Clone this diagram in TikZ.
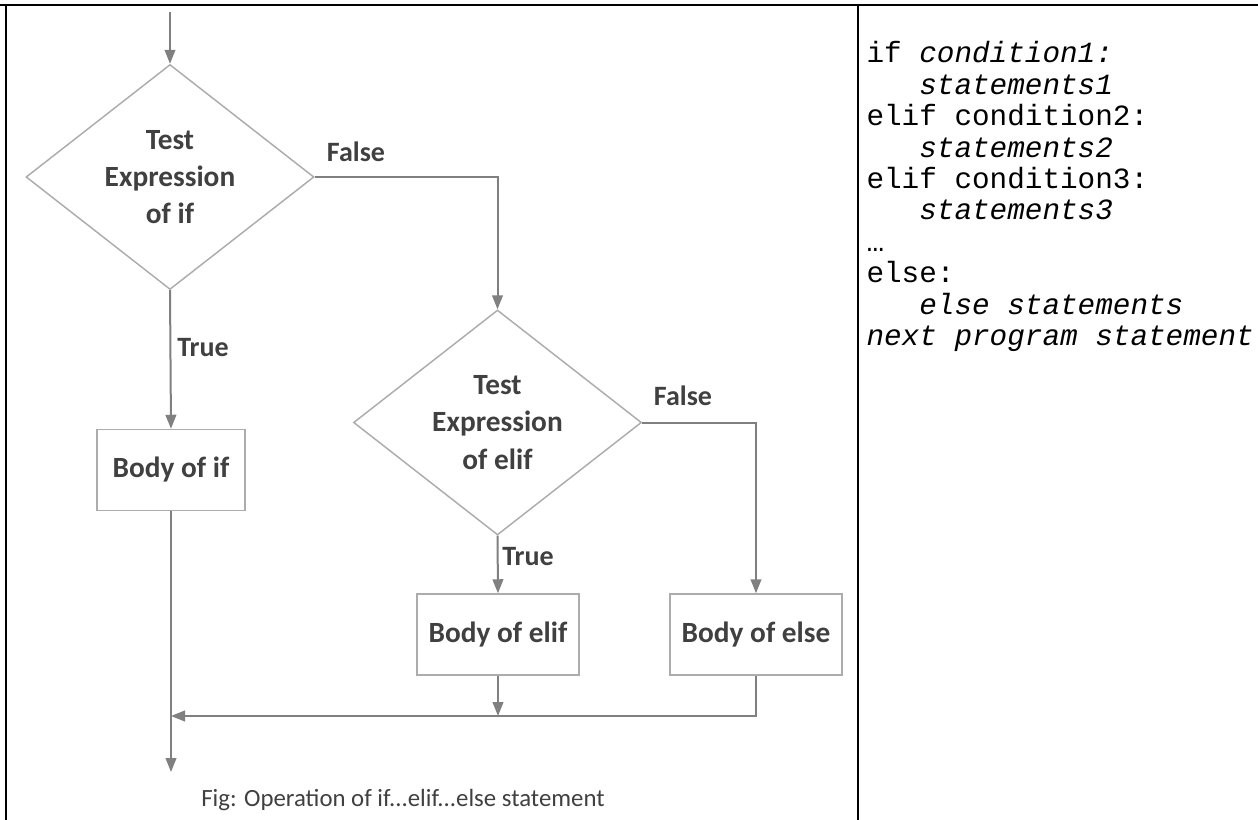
\documentclass[tikz,border=0pt]{standalone}
\usepackage{fontspec}
\usetikzlibrary{shapes.geometric,arrows.meta}
\newfontfamily\flowfont{Carlito}
\newfontfamily\codefont{Liberation Mono}
\definecolor{linegray}{RGB}{128,128,128}
\definecolor{boxgray}{RGB}{172,172,172}
\definecolor{textgray}{RGB}{64,64,64}
\newcommand{\codeind}{\hspace*{39.6pt}}

\tikzset{every picture/.style={line width=0.75pt}}
\tikzset{
  decision/.style={diamond, draw=boxgray, line width=1.1pt, inner sep=0pt, minimum width=216pt, minimum height=168.75pt, align=center, text=textgray, font=\flowfont\bfseries\fontsize{22}{28}\selectfont},
  bodybox/.style={rectangle, draw=boxgray, line width=1.1pt, inner sep=0pt, minimum height=60.75pt, text=textgray, font=\flowfont\bfseries\fontsize{22}{28}\selectfont},
  branchlabel/.style={inner sep=0pt, text=textgray, font=\flowfont\bfseries\fontsize{21}{26}\selectfont},
  flow/.style={draw=linegray, line width=1.5pt, -{Triangle[length=10.5pt,width=8pt]}},
  flowline/.style={draw=linegray, line width=1.5pt},
  codeline/.style={anchor=base west, inner sep=0pt, font=\codefont\fontsize{22}{24}\selectfont},
  frameline/.style={draw=black, line width=1.8pt}
}

\begin{document}
\begin{tikzpicture}[x=0.75pt,y=0.75pt,yscale=-1,xscale=1]
\useasboundingbox (0,0) rectangle (1258,820);

% table frame
\draw [frameline] (0,5) -- (1258,5);
\draw [frameline] (6,5) -- (6,820);
\draw [frameline] (858,5) -- (858,820);

% decisions
\node [decision] (testif) at (170,177) {Test\\Expression\\of if};
\node [decision] (testelif) at (497.5,422.5) {Test\\Expression\\of elif};

% bodies
\node [bodybox, minimum width=111pt] (bodyif) at (171,470) {Body of if};
\node [bodybox, minimum width=121.5pt] (bodyelif) at (498,634.5) {Body of elif};
\node [bodybox, minimum width=129pt] (bodyelse) at (756,634.5) {Body of else};

% free ends
\coordinate (entry) at (170,12);
\coordinate (merge) at (171,716);
\coordinate (exit) at (171,772);

% connectors
\draw [flow] (entry) -- (testif.north);
\draw [flow] (testif.east) -| (testelif.north);
\draw [flow] (testif.south) -- (bodyif.north);
\draw [flow] (testelif.east) -| (bodyelse.north);
\draw [flow] (testelif.south) -- (bodyelif.north);
\draw [flow] (bodyif.south) -- (exit);
\draw [flow] (bodyelse.south) |- (merge);
\draw [flow] (bodyelif.south) -- (bodyelif.south |- merge);

% branch labels
\node [branchlabel] (falseif) at (356,152) {False};
\node [branchlabel] (trueif) at (203,348) {True};
\node [branchlabel] (falseelif) at (683,396) {False};
\node [branchlabel] (trueelif) at (528,557) {True};

% caption
\node [inner sep=0pt, text=textgray, font=\flowfont\fontsize{18.6}{22}\selectfont] (caption) at (403,800) {Fig: Operation of if...elif...else statement};

% code
\node [codeline] (line1) at (866,63) {if \itshape condition1:};
\node [codeline] (line2) at (866,94.4) {\codeind\itshape statements1};
\node [codeline] (line3) at (866,125.8) {elif condition2:};
\node [codeline] (line4) at (866,157.2) {\codeind\itshape statements2};
\node [codeline] (line5) at (866,188.6) {elif condition3:};
\node [codeline] (line6) at (866,220) {\codeind\itshape statements3};
\node [codeline] (line7) at (866,251.4) {…};
\node [codeline] (line8) at (866,282.8) {else:};
\node [codeline] (line9) at (866,314.2) {\codeind\itshape else statements};
\node [codeline] (line10) at (866,345.6) {\itshape next program statement};
\end{tikzpicture}
\end{document}
